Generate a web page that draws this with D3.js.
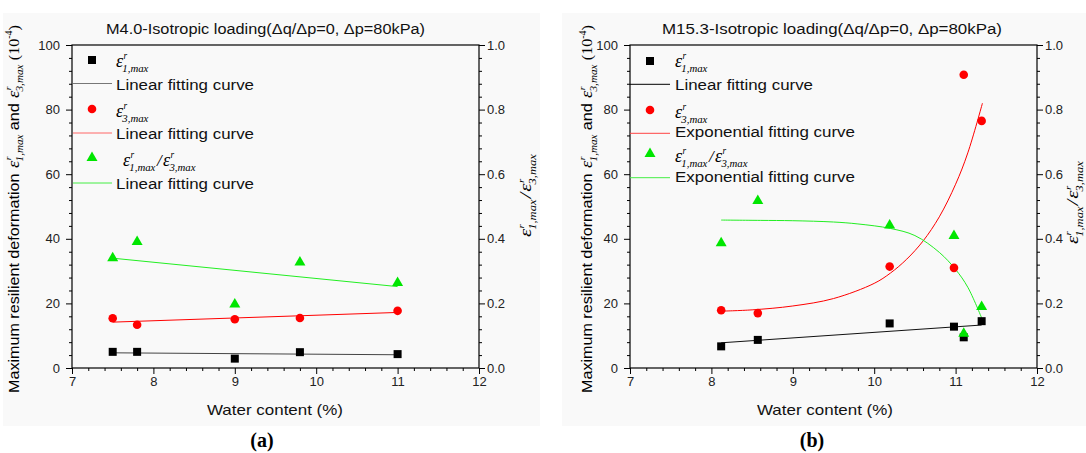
<!DOCTYPE html>
<html><head><meta charset="utf-8">
<script src="https://cdn.jsdelivr.net/npm/d3@7"></script>
<style>body{margin:0;background:#fff}svg{display:block}</style>
</head><body>
<svg id="chart" width="1086" height="453"></svg>
<script>
// ---------------- data ----------------
const xTicks = [7, 8, 9, 10, 11, 12];
const yLeftTicks = [0, 20, 40, 60, 80, 100];
const yRightTicks = [0, 0.2, 0.4, 0.6, 0.8, 1.0];

const titleA = "M4.0-Isotropic loading(\u0394q/\u0394p=0, \u0394p=80kPa)";
const titleB = "M15.3-Isotropic loading(\u0394q/\u0394p=0, \u0394p=80kPa)";
const xLabel = "Water content (%)";
const panelTags = ["(a)", "(b)"];
const fitLabelsA = ["Linear fitting curve", "Linear fitting curve", "Linear fitting curve"];
const fitLabelsB = ["Linear fitting curve", "Exponential fitting curve", "Exponential fitting curve"];

// panel (a)
const waterA = [7.5, 7.8, 9.0, 9.8, 11.0];
const eps1A  = [5.0, 5.0, 2.9, 4.9, 4.3];
const eps3A  = [15.4, 13.4, 15.1, 15.5, 17.7];
const ratioA = [0.343, 0.393, 0.20, 0.33, 0.266];
const fitXA      = [7.5, 11.0];
const fitEps1A   = [4.7, 4.1];
const fitEps3A   = [14.2, 17.2];
const fitRatioA  = [0.34, 0.252];

// panel (b)
const waterB = [8.12, 8.57, 10.19, 10.98, 11.1, 11.32];
const eps1B  = [6.7, 8.7, 13.8, 12.8, 9.5, 14.5];
const eps3B  = [17.9, 17.0, 31.4, 31.0, 90.8, 76.5];
const ratioB = [0.389, 0.52, 0.444, 0.412, 0.109, 0.192];
const fitXB1     = [8.12, 11.32];
const fitEps1B   = [7.8, 13.3];
const fitXB3     = [8.12, 8.5, 9.0, 9.5, 10.0, 10.2, 10.4, 10.6, 10.8, 11.0, 11.15, 11.33];
const fitEps3B   = [17.6, 18.0, 19.2, 21.5, 26.2, 29.4, 33.7, 39.3, 46.8, 56.9, 66.6, 82.0];
const fitXBR     = [8.12, 8.6, 9.0, 9.5, 9.8, 10.2, 10.5, 10.8, 11.0, 11.15, 11.32];
const fitRatioB  = [0.458, 0.457, 0.456, 0.452, 0.446, 0.432, 0.41, 0.358, 0.305, 0.25, 0.155];

// ---------------- drawing ----------------
const SANS = "'Liberation Sans', Arial, sans-serif";
const SERIF = "'Liberation Serif', 'Times New Roman', serif";
const svg = d3.select("#chart");

function rich(parent, segs, size) {
  const g = parent.append("g");
  let x = 0;
  for (const s of segs) {
    if (s.eps) {
      const es = s.es || size * 1.15;
      const e = g.append("text").attr("x", x).attr("y", 0)
        .attr("font-family", SERIF).attr("font-style", "italic").attr("font-size", es).text("\u03b5");
      const w = e.node().getComputedTextLength();
      const sp = g.append("text").attr("x", x + w + 0.3).attr("y", -es * 0.42)
        .attr("font-family", SERIF).attr("font-style", "italic").attr("font-size", es * 0.52).text("r");
      const sb = g.append("text").attr("x", x + w - 0.8).attr("y", es * 0.28)
        .attr("font-family", SERIF).attr("font-style", "italic").attr("font-size", es * 0.6).text(s.sub);
      x += w + Math.max(sp.node().getComputedTextLength() + 0.3, sb.node().getComputedTextLength() - 0.8) + (s.after || 1);
    } else {
      const fs = s.sup ? size * 0.62 : (s.size || size);
      const t = g.append("text").attr("x", x).attr("y", s.sup ? -size * 0.42 : 0)
        .attr("font-family", s.serif ? SERIF : SANS)
        .attr("font-style", s.italic ? "italic" : "normal")
        .attr("font-size", fs).text(s.t);
      x += t.node().getComputedTextLength() + (s.after || 0);
    }
  }
  return { g, w: x };
}

function fitted(parent, segs, size, target) {
  const r = rich(parent, segs, size);
  if (target) r.g.attr("transform", `scale(${target / r.w},1)`);
  return r;
}

function marker(g, type, cx, cy, color) {
  if (type === "square") {
    g.append("rect").attr("x", cx - 4).attr("y", cy - 4).attr("width", 8).attr("height", 8).attr("fill", color);
  } else if (type === "circle") {
    g.append("circle").attr("cx", cx).attr("cy", cy).attr("r", 4.3).attr("fill", color);
  } else {
    g.append("path").attr("d", `M${cx},${cy - 5.5}L${cx + 5.5},${cy + 4}L${cx - 5.5},${cy + 4}Z`).attr("fill", color);
  }
}

const C_BLK = "#000", C_RED = "#ff0000", C_GRN = "#00e600", C_GRN_L = "#22ee22";

function drawPanel(p) {
  const g = svg.append("g");
  g.append("rect").attr("x", p.bg[0]).attr("y", p.bg[1]).attr("width", p.bg[2]).attr("height", p.bg[3]).attr("fill", "#f9f9f9");

  const x = d3.scaleLinear().domain([7, 12]).range([p.x0, p.x1]);
  const yL = d3.scaleLinear().domain([0, 100]).range([368, 45]);
  const yR = d3.scaleLinear().domain([0, 1]).range([368, 45]);

  const minorX = d3.range(7, 12.0001, 0.2).filter(v => Math.abs(v - Math.round(v)) > 1e-6);
  const minorYL = d3.range(0, 100.001, 4).filter(v => v % 20 !== 0);
  const minorYR = minorYL.map(v => v / 100);

  const styleAxis = sel => {
    sel.select(".domain").remove();
    sel.selectAll("line").attr("stroke", "#000").attr("stroke-width", 1);
    sel.selectAll("text").attr("font-family", SANS).attr("font-size", 13).attr("fill", "#222");
  };

  // minor ticks
  g.append("g").attr("transform", "translate(0,368)").call(d3.axisBottom(x).tickValues(minorX).tickSize(3).tickFormat("")).call(styleAxis);
  g.append("g").attr("transform", `translate(${p.x0},0)`).call(d3.axisLeft(yL).tickValues(minorYL).tickSize(3).tickFormat("")).call(styleAxis);
  g.append("g").attr("transform", `translate(${p.x1},0)`).call(d3.axisRight(yR).tickValues(minorYR).tickSize(3).tickFormat("")).call(styleAxis);
  // major ticks
  g.append("g").attr("transform", "translate(0,368)").call(d3.axisBottom(x).tickValues(xTicks).tickSize(6).tickPadding(3).tickFormat(d3.format("d"))).call(styleAxis);
  g.append("g").attr("transform", `translate(${p.x0},0)`).call(d3.axisLeft(yL).tickValues(yLeftTicks).tickSize(6).tickPadding(6).tickFormat(d3.format("d"))).call(styleAxis);
  g.append("g").attr("transform", `translate(${p.x1},0)`).call(d3.axisRight(yR).tickValues(yRightTicks).tickSize(6).tickPadding(2).tickFormat(d3.format(".1f"))).call(styleAxis);

  // frame
  g.append("rect").attr("x", p.x0).attr("y", 45).attr("width", p.x1 - p.x0).attr("height", 323)
    .attr("fill", "none").attr("stroke", "#000").attr("stroke-width", 1.2);

  // title
  g.append("text").attr("x", p.titleX).attr("y", 33.5).attr("font-family", SANS).attr("font-size", 14)
    .attr("textLength", p.titleW).attr("lengthAdjust", "spacingAndGlyphs").attr("fill", "#111").text(p.title);

  // x label
  g.append("text").attr("x", p.xlabX).attr("y", 415).attr("font-family", SANS).attr("font-size", 14.5)
    .attr("textLength", 136).attr("lengthAdjust", "spacingAndGlyphs").attr("fill", "#111").text(xLabel);

  // panel tag
  g.append("text").attr("x", p.tagX).attr("y", 447).attr("text-anchor", "middle").attr("font-family", SERIF)
    .attr("font-weight", "bold").attr("font-size", 20).attr("fill", "#000").text(p.tag);

  // left y label
  const ly = g.append("g").attr("transform", `translate(${p.ylabX},393) rotate(-90)`);
  fitted(ly, [
    { t: "Maximum resilient deformation", after: 5 },
    { eps: 1, sub: "1,max", after: 4 },
    { t: "and", after: 5 },
    { eps: 1, sub: "3,max", after: 4 },
    { t: "(10", serif: 1 }, { t: "-4", serif: 1, sup: 1 }, { t: ")", serif: 1 }
  ], 15, 368);

  // right y label
  const ry = g.append("g").attr("transform", `translate(${p.rlabX},${p.rlabY}) rotate(-90)`);
  fitted(ry, [
    { eps: 1, sub: "1,max", after: 1, es: 17 },
    { t: "/", serif: 1, italic: 1, size: 16, after: 1 },
    { eps: 1, sub: "3,max", es: 17 }
  ], 15, 84);

  // lines
  const line = (sx, sy, xs, ys, color, curve) => {
    g.append("path").datum(xs.map((v, i) => [v, ys[i]]))
      .attr("d", d3.line().x(d => x(d[0])).y(d => sy(d[1])).curve(curve || d3.curveLinear))
      .attr("fill", "none").attr("stroke", color).attr("stroke-width", 1);
  };
  p.lines.forEach(l => line(x, l.axis === "R" ? yR : yL, l.xs, l.ys, l.color, l.curve));

  // markers
  p.series.forEach(s => {
    const sy = s.axis === "R" ? yR : yL;
    s.xs.forEach((v, i) => marker(g, s.type, x(v), sy(s.ys[i]), s.color));
  });

  // legend
  const L = p.legend;
  const rows = [
    { type: "square", color: C_BLK, sub: "1,max" },
    { type: "circle", color: C_RED, sub: "3,max" },
    { type: "triangle", color: C_GRN, ratio: true }
  ];
  rows.forEach((r, i) => {
    marker(g, r.type, L.mx, L.my[i], r.color);
    const tg = g.append("g").attr("transform", `translate(${r.ratio ? L.rx : L.tx},${L.ty[i]})`);
    if (r.ratio) {
      rich(tg, [{ eps: 1, sub: "1,max", es: 18, after: 1.5 }, { t: "/", serif: 1, italic: 1, size: 17, after: 1.5 }, { eps: 1, sub: "3,max", es: 18 }], 15);
    } else {
      rich(tg, [{ eps: 1, sub: r.sub, es: 18 }], 15);
    }
    g.append("line").attr("x1", L.lx0).attr("x2", L.lx1).attr("y1", L.ly[i]).attr("y2", L.ly[i])
      .attr("stroke", L.lineColors[i]).attr("stroke-width", 1);
    g.append("text").attr("x", L.tx).attr("y", L.fy[i]).attr("font-family", SANS).attr("font-size", 14)
      .attr("textLength", p.fitLabels[i].length > 20 ? 180 : 138).attr("lengthAdjust", "spacingAndGlyphs")
      .attr("fill", "#111").text(p.fitLabels[i]);
  });
}

drawPanel({
  bg: [3, 13, 537, 413], x0: 72, x1: 479,
  title: titleA, titleX: 106, titleW: 319, xlabX: 207, tag: panelTags[0], tagX: 262,
  ylabX: 18.5, rlabX: 531, rlabY: 237,
  lines: [
    { xs: fitXA, ys: fitEps1A, color: "#444" },
    { xs: fitXA, ys: fitEps3A, color: C_RED },
    { xs: fitXA, ys: fitRatioA, color: C_GRN_L, axis: "R" }
  ],
  series: [
    { xs: waterA, ys: eps1A, type: "square", color: C_BLK },
    { xs: waterA, ys: eps3A, type: "circle", color: C_RED },
    { xs: waterA, ys: ratioA, type: "triangle", color: C_GRN, axis: "R" }
  ],
  fitLabels: fitLabelsA,
  legend: { mx: 92, my: [60, 109, 157], tx: 116, rx: 123, ty: [67, 117, 166],
            lx0: 73, lx1: 112, ly: [83.5, 133, 183], fy: [89.5, 138.5, 188.5],
            lineColors: ["#777", "#ff6666", "#44ee44"] }
});

drawPanel({
  bg: [562, 13, 524, 413], x0: 630, x1: 1037,
  title: titleB, titleX: 662, titleW: 340, xlabX: 757, tag: panelTags[1], tagX: 812,
  ylabX: 592, rlabX: 1078, rlabY: 244,
  lines: [
    { xs: fitXB1, ys: fitEps1B, color: "#111" },
    { xs: fitXB3, ys: fitEps3B, color: C_RED, curve: d3.curveCatmullRom },
    { xs: fitXBR, ys: fitRatioB, color: C_GRN_L, axis: "R", curve: d3.curveCatmullRom }
  ],
  series: [
    { xs: waterB, ys: eps1B, type: "square", color: C_BLK },
    { xs: waterB, ys: eps3B, type: "circle", color: C_RED },
    { xs: waterB, ys: ratioB, type: "triangle", color: C_GRN, axis: "R" }
  ],
  fitLabels: fitLabelsB,
  legend: { mx: 650, my: [61, 110, 153], tx: 675, rx: 675, ty: [67, 118, 162],
            lx0: 630, lx1: 670, ly: [84.3, 133.3, 177.7], fy: [89.5, 137, 182],
            lineColors: ["#000", "#ff4444", "#44ee44"] }
});
</script>
</body></html>
